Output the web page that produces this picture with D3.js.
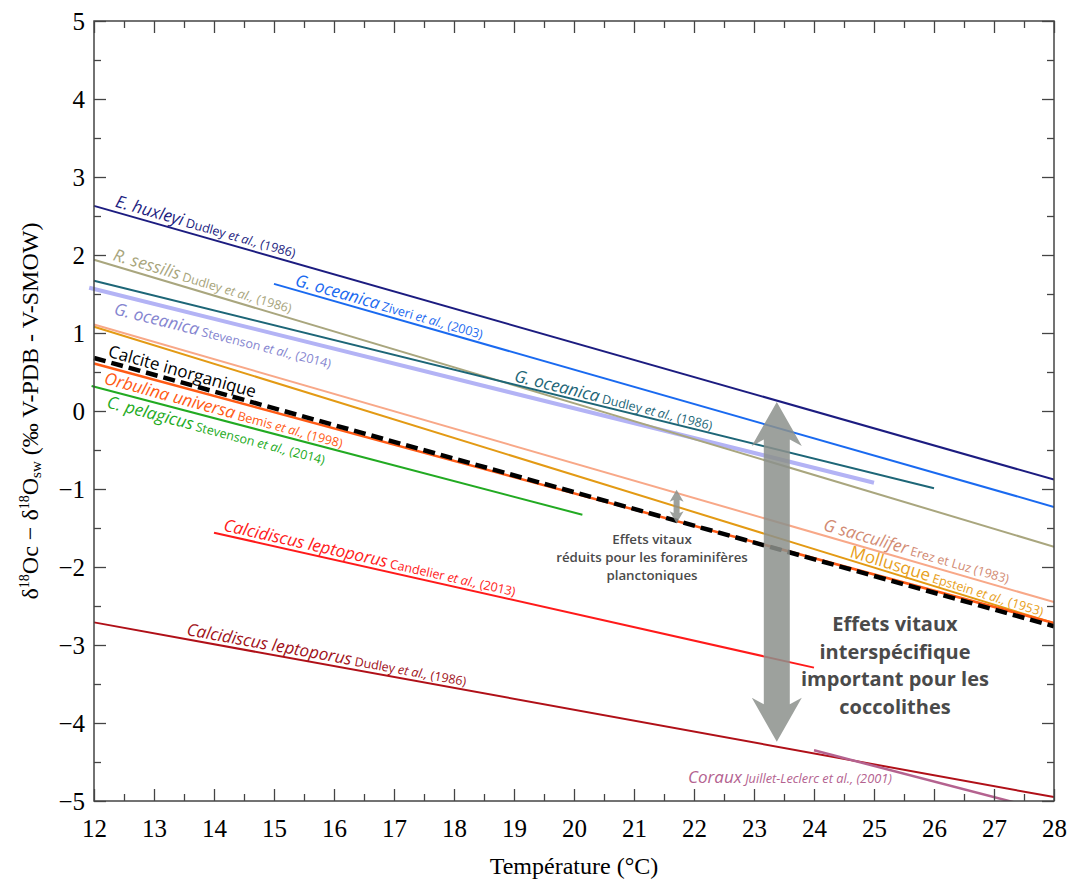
<!DOCTYPE html>
<html>
<head>
<meta charset="utf-8">
<script src="https://cdn.jsdelivr.net/npm/d3@7"></script>
<style>
  html, body { margin: 0; padding: 0; background: #fff; }
  svg { display: block; }
</style>
</head>
<body>
<svg id="chart" width="1067" height="882"></svg>
<script>
// ---------------- DATA ----------------
const X_TICKS = d3.range(12, 29, 1);
const Y_TICKS = d3.range(-5, 6, 1);
const X_MINOR = d3.range(12.5, 28, 1);
const Y_MINOR = d3.range(-4.5, 5, 1);

// calibration lines: [temperature °C, δ18Oc − δ18Osw]
const eHuxleyi          = [[12, 2.63], [28, -0.88]];
const rSessilis         = [[12, 1.94], [28, -1.74]];
const gOceanicaDudley   = [[12, 1.67], [26, -0.99]];
const gOceanicaSteven   = [[11.92, 1.58], [25, -0.92]];
const gOceanicaZiveri   = [[15, 1.63], [28, -1.23]];
const gSacculifer       = [[12, 1.11], [28, -2.45]];
const mollusque         = [[12, 1.08], [28, -2.72]];
const calciteInorg      = [[12, 0.68], [28, -2.76]];
const orbulina          = [[12, 0.61], [28, -2.72]];
const cPelagicus        = [[11.96, 0.32], [20.14, -1.33]];
const calciCandelier    = [[14, -1.56], [24, -3.29]];
const calciDudley       = [[12, -2.71], [28, -4.95]];
const coraux            = [[24, -4.35], [28, -5.15]];

const seriesData   = [gOceanicaSteven, eHuxleyi, rSessilis, gOceanicaDudley, gOceanicaZiveri, gSacculifer, mollusque, orbulina, calciteInorg, cPelagicus, calciCandelier, calciDudley, coraux];
const seriesColors = ["#b3b3f5", "#1c1c80", "#a9a67e", "#1d6677", "#1a6af0", "#f8a888", "#e39a14", "#ff5a14", "#000000", "#22aa22", "#ff1a1a", "#b01018", "#b4628f"];
const seriesWidths = [4, 2, 2, 2, 2, 2, 2, 2.5, 4.5, 2, 2, 2, 2.5];

// labels: species, reference (name, "et al.,", year), start temperature, perpendicular offset, colour
const labelSpecies = ["E. huxleyi", "R. sessilis", "G. oceanica", "G. oceanica", "G. oceanica", "Calcite inorganique", "Orbulina universa", "C. pelagicus", "Calcidiscus leptoporus", "Calcidiscus leptoporus", "G sacculifer", "Mollusque"];
const labelRefName = ["Dudley", "Dudley", "Ziveri", "Stevenson", "Dudley", "", "Bemis", "Stevenson", "Candelier", "Dudley", "Erez et Luz (1983)", "Epstein"];
const labelRefYear = ["(1986)", "(1986)", "(2003)", "(2014)", "(1986)", "", "(1998)", "(2014)", "(2013)", "(1986)", "", "(1953)"];
const labelLine    = [eHuxleyi, rSessilis, gOceanicaZiveri, gOceanicaSteven, gOceanicaDudley, calciteInorg, orbulina, cPelagicus, calciCandelier, calciDudley, gSacculifer, mollusque];
const labelStartT  = [12.32, 12.28, 15.32, 12.4, 18.98, 12.2, 12.23, 12.27, 14.13, 13.52, 24.12, 24.57];
const labelOffset  = [-5, -5, -4, 20, -3, -5, 17, 17, -4, -4, -5, -3];
const labelItalic  = [true, true, true, true, true, false, true, true, true, true, true, false];
const labelColors  = ["#1c1c80", "#a8a57c", "#1a6af0", "#8585d0", "#1d6677", "#000000", "#ff5a14", "#22aa22", "#ff1a1a", "#a01018", "#d28a72", "#e8a020"];

const corauxLabelPos = [21.9, -4.77];

// arrows: [temperature, top value, bottom value]
const bigArrow   = [23.38, 0.115, -4.24];
const smallArrow = [21.71, -1.01, -1.44];

const bigNote   = ["Effets vitaux", "interspécifique", "important pour les", "coccolithes"];
const bigNotePos = [25.35, -2.82];
const smallNote = ["Effets vitaux", "réduits pour les foraminifères", "planctoniques"];
const smallNotePos = [21.3, -1.71];

// ---------------- LAYOUT ----------------
const svg = d3.select("#chart");
const M = { left: 94, right: 1054, top: 21, bottom: 801 };
const x = d3.scaleLinear().domain([12, 28]).range([M.left, M.right]);
const y = d3.scaleLinear().domain([-5, 5]).range([M.bottom, M.top]);
const SANS = "'Open Sans', 'Noto Sans', sans-serif";
const SERIF = "'Liberation Serif', 'Times New Roman', serif";

svg.append("defs").append("clipPath").attr("id", "plotclip")
  .append("rect").attr("x", M.left - 6).attr("y", M.top).attr("width", M.right - M.left + 6).attr("height", M.bottom - M.top);

// lines
const line = d3.line().x(d => x(d[0])).y(d => y(d[1]));
const gLines = svg.append("g").attr("clip-path", "url(#plotclip)");
seriesData.forEach((s, i) => {
  gLines.append("path")
    .attr("d", line(s))
    .attr("fill", "none")
    .attr("stroke", seriesColors[i])
    .attr("stroke-width", seriesWidths[i])
    .attr("stroke-dasharray", s === calciteInorg ? "12,6" : null);
});

// arrows
function arrowPath(cx, yTop, yBot, shaftW, headW, headL) {
  const p = d3.path();
  const hs = shaftW / 2, hh = headW / 2;
  p.moveTo(cx, yTop);
  p.quadraticCurveTo(cx + hh * 0.5, yTop + headL * 0.5, cx + hh, yTop + headL);
  p.lineTo(cx + hs, yTop + headL * 0.85);
  p.lineTo(cx + hs, yBot - headL * 0.85);
  p.lineTo(cx + hh, yBot - headL);
  p.quadraticCurveTo(cx + hh * 0.5, yBot - headL * 0.5, cx, yBot);
  p.quadraticCurveTo(cx - hh * 0.5, yBot - headL * 0.5, cx - hh, yBot - headL);
  p.lineTo(cx - hs, yBot - headL * 0.85);
  p.lineTo(cx - hs, yTop + headL * 0.85);
  p.lineTo(cx - hh, yTop + headL);
  p.quadraticCurveTo(cx - hh * 0.5, yTop + headL * 0.5, cx, yTop);
  p.closePath();
  return p.toString();
}
svg.append("path")
  .attr("d", arrowPath(x(bigArrow[0]), y(bigArrow[1]), y(bigArrow[2]), 26, 50, 44))
  .attr("fill", "#8c918c").attr("fill-opacity", 0.85);
svg.append("path")
  .attr("d", arrowPath(x(smallArrow[0]), y(smallArrow[1]), y(smallArrow[2]), 6, 14, 12))
  .attr("fill", "#8c918c").attr("fill-opacity", 0.85);

// line labels
const gLab = svg.append("g").attr("font-family", SANS);
labelSpecies.forEach((sp, i) => {
  const ln = labelLine[i];
  const x0 = x(ln[0][0]), y0 = y(ln[0][1]), x1 = x(ln[1][0]), y1 = y(ln[1][1]);
  const ang = Math.atan2(y1 - y0, x1 - x0);
  const t = labelStartT[i];
  const px = x(t);
  const py = y0 + (px - x0) * (y1 - y0) / (x1 - x0);
  const off = labelOffset[i];
  const tx = px - Math.sin(ang) * off, ty = py + Math.cos(ang) * off;
  const txt = gLab.append("text")
    .attr("transform", `translate(${tx},${ty}) rotate(${ang * 180 / Math.PI})`)
    .attr("fill", labelColors[i]);
  txt.append("tspan").attr("font-size", 17).attr("font-style", labelItalic[i] ? "italic" : "normal").text(sp);
  if (labelRefName[i]) {
    txt.append("tspan").attr("font-size", 12.5).text(" " + labelRefName[i]);
    if (labelRefYear[i]) {
      txt.append("tspan").attr("font-size", 12.5).attr("font-style", "italic").text(" et al.,");
      txt.append("tspan").attr("font-size", 12.5).text(" " + labelRefYear[i]);
    }
  }
});
// coraux label (horizontal)
const cl = gLab.append("text")
  .attr("x", x(corauxLabelPos[0])).attr("y", y(corauxLabelPos[1]))
  .attr("fill", "#b4628f").attr("font-style", "italic");
cl.append("tspan").attr("font-size", 17).text("Coraux");
cl.append("tspan").attr("font-size", 12.8).text(" Juillet-Leclerc et al., (2001)");

// notes
const gNote = svg.append("g").attr("font-family", SANS).attr("fill", "#4a4a4a").attr("font-weight", 700).attr("text-anchor", "middle");
bigNote.forEach((t, i) => {
  gNote.append("text").attr("x", x(bigNotePos[0])).attr("y", y(bigNotePos[1]) + i * 27.7)
    .attr("font-size", 20).text(t);
});
smallNote.forEach((t, i) => {
  gNote.append("text").attr("x", x(smallNotePos[0])).attr("y", y(smallNotePos[1]) + i * 18)
    .attr("font-size", 13.3).attr("font-weight", 600).text(t);
});

// axes box and ticks
const gAx = svg.append("g");
const tickFmt = v => (v < 0 ? "\u2212" + Math.abs(v) : String(v));
const axB = d3.axisBottom(x).tickValues(X_TICKS).tickSize(-12).tickFormat(tickFmt).tickPadding(18);
const axT = d3.axisTop(x).tickValues(X_TICKS).tickSize(-12).tickFormat("");
const axL = d3.axisLeft(y).tickValues(Y_TICKS).tickSize(-12).tickFormat(tickFmt).tickPadding(9);
const axR = d3.axisRight(y).tickValues(Y_TICKS).tickSize(-12).tickFormat("");
const axBm = d3.axisBottom(x).tickValues(X_MINOR).tickSize(-7).tickFormat("");
const axTm = d3.axisTop(x).tickValues(X_MINOR).tickSize(-7).tickFormat("");
const axLm = d3.axisLeft(y).tickValues(Y_MINOR).tickSize(-7).tickFormat("");
const axRm = d3.axisRight(y).tickValues(Y_MINOR).tickSize(-7).tickFormat("");
[[axB, `translate(0,${M.bottom})`], [axT, `translate(0,${M.top})`], [axL, `translate(${M.left},0)`], [axR, `translate(${M.right},0)`],
 [axBm, `translate(0,${M.bottom})`], [axTm, `translate(0,${M.top})`], [axLm, `translate(${M.left},0)`], [axRm, `translate(${M.right},0)`]]
.forEach(([ax, tr]) => {
  const g = gAx.append("g").attr("transform", tr).call(ax);
  g.attr("font-family", SERIF).attr("font-size", 25);
  g.select(".domain").remove();
  g.selectAll(".tick line").attr("stroke", "#444").attr("stroke-width", 1.3);
  g.selectAll(".tick text").style("font-family", SERIF).style("font-size", "25px").attr("fill", "#000");
});
gAx.append("rect").attr("x", M.left).attr("y", M.top).attr("width", M.right - M.left).attr("height", M.bottom - M.top)
  .attr("fill", "none").attr("stroke", "#444").attr("stroke-width", 1.5);

// axis titles
svg.append("text").attr("x", (M.left + M.right) / 2).attr("y", 874)
  .attr("text-anchor", "middle").attr("font-family", SERIF).attr("font-size", 24).text("Température (°C)");

const yl = svg.append("text").attr("transform", `translate(38,${(M.top + M.bottom) / 2}) rotate(-90)`)
  .attr("text-anchor", "middle").attr("font-family", SERIF).attr("font-size", 24);
yl.append("tspan").text("δ");
yl.append("tspan").attr("font-size", 14).attr("dy", -9).text("18");
yl.append("tspan").attr("dy", 9).text("Oc − δ");
yl.append("tspan").attr("font-size", 14).attr("dy", -9).text("18");
yl.append("tspan").attr("dy", 9).text("O");
yl.append("tspan").attr("font-size", 15).attr("dy", 3).text("sw");
yl.append("tspan").attr("dy", -3).text(" (‰ V-PDB - V-SMOW)");
</script>
</body>
</html>
